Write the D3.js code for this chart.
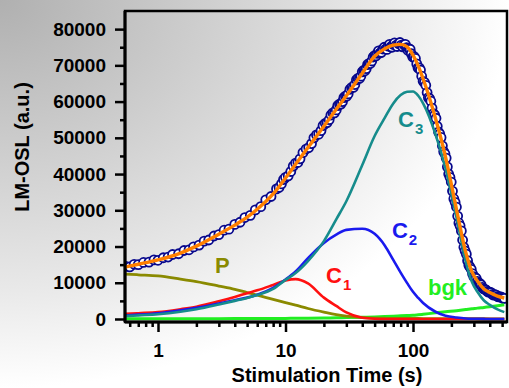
<!DOCTYPE html>
<html>
<head>
<meta charset="utf-8">
<script src="https://d3js.org/d3.v7.min.js"></script>
<style>
  html, body { margin: 0; padding: 0; background: #fff; }
  svg { display: block; }
  text { font-family: "Liberation Sans", Arial, sans-serif; font-weight: bold; }
</style>
</head>
<body>
<svg id="chart"></svg>
<script>
// measured LM-OSL points (first pass over the curve)
const dataTime = [0.56,0.6,0.65,0.7,0.77,0.85,0.93,1.0,1.1,1.2,
  1.3,1.45,1.6,1.75,1.9,2.1,2.3,2.5,2.75,3.0,
  3.3,3.6,4.0,4.4,4.8,5.3,5.8,6.4,7.0,7.7,
  8.5,9.3,10,11,12,13,14.5,16,17.5,19,
  20.5,22,23.5,25,26.5,28,29.5,31,33,35,
  37,39,41,43,45,47.5,50,52.5,55,58,
  61,64,67,70,73.5,77,81,85,89,93,
  97,102,107,112,117,123,129,135,141,148,
  155,162,170,178,186,195,204,214,224,234,
  245,256,268,280,293,306,320,335,350,366,
  383,400,420,440,460,480,500,520];
const dataOsl = [14500,14400,15100,15000,15600,15700,16300,16200,16900,17100,
  17800,18000,18900,19100,19900,20400,21500,21800,22900,23300,
  24500,24800,26100,26700,28000,28600,30100,31000,32900,33800,
  35900,37300,39100,40700,43000,44200,46900,48400,50800,52000,
  54000,55000,56900,57700,59300,60000,61500,62100,63900,64700,
  66400,67000,68600,69100,70500,71200,72700,73300,73400,74500,
  74500,75300,75100,75800,75500,76000,75600,75700,74900,74600,
  73200,72400,70400,69300,67000,65300,62500,60800,58200,56300,
  53200,51100,47800,45600,42000,39100,35300,32200,28400,25700,
  21800,18800,16100,14300,12500,11500,10400,9800,8700,8200,
  7600,7400,6800,6700,6200,6100,5900,5700];

// the points in between, where the record gets dense
const denseTime = [8.9,9.65,10.5,11.5,12.5,13.7,15.2,16.7,18.2,19.7,
  21.2,22.7,24.2,25.7,27.2,28.7,30.2,32,34,36,
  38,40,42,44,46.2,48.7,51.2,53.7,56.5,59.5,
  62.5,65.5,68.5,71.7,75.2,79,83,87,91,95,
  99.5,104.5,109.5,114.5,120,126,132,138,144.5,151.5,
  158.5,166,174,182,190.5,199.5,209,219,229,239.5,
  250.5,262,274,286.5,299.5,313,327.5,342.5,358,374.5,
  391.5,410,430,450,470,490,510];
const denseOsl = [36300,38500,39500,42200,43200,45900,47300,50000,51000,53400,
  54200,56300,56900,58900,59300,61100,61500,63400,63900,66000,
  66400,68200,68500,70200,70500,72300,72600,74000,73600,75000,
  74400,75800,75000,76200,75200,76300,75100,75800,74200,74400,
  72300,71900,69300,68700,65600,64500,61100,60100,56700,55400,
  51600,50100,46200,44400,40000,37800,33200,30900,26500,24300,
  19800,17900,14800,13700,11700,11200,9900,9400,8300,8000,
  7400,7300,6600,6600,6100,6100,5700];

// fit and components, on a common time grid
const compTime = [0.55,0.7,1,1.5,2,3,4,5,6,8,10,12,15,20,25,30,40,50,60,70,80,90,100,110,120,150,180,220,260,290,320,360,400,460,520];
const fitSum = [14300,15100,16300,18200,20100,23400,25900,28100,30300,34500,38900,42700,47300,53200,57900,61600,67800,72500,74600,75600,75800,75100,72800,69800,66300,55400,44700,30000,18200,13000,10500,8300,7300,6300,5800];
const compP  = [12400,12200,11900,11000,10300,9100,8200,7300,6600,5400,4500,3800,2900,1900,1200,800,400,250,200,180,160,150,140,130,120,110,100,90,80,80,70,70,60,60,50];
const compC1 = [1400,1600,1900,2700,3400,4900,6100,7100,7900,9400,10600,11000,9800,5900,3600,1800,350,60,0,0,0,0,0,0,0,0,0,0,0,0,0,0,0,0,0];
const compC2 = [1000,1200,1600,2400,3100,4300,5200,5900,6700,8600,10900,13100,16800,21000,23300,24600,24900,23500,20300,16300,12800,9900,7500,5800,4400,2000,900,400,150,80,50,20,0,0,0];
const compC3 = [800,1000,1300,2000,2700,4000,5000,5800,6600,8300,10800,12700,16000,21500,27500,32500,42500,50500,55500,59500,61800,62700,62800,61600,59500,51000,41500,27800,15600,10200,7500,5100,3900,2650,1900];
const compBgk = [50,50,60,70,80,100,110,120,130,150,170,200,230,280,330,380,480,580,680,780,880,950,1000,1150,1300,1700,2000,2300,2600,2800,3000,3200,3400,3650,3900];

const xMajor = [1, 10, 100];
const xMinor = [0.6,0.7,0.8,0.9,2,3,4,5,6,7,8,9,20,30,40,50,60,70,80,90,200,300,400,500];
const yMajor = [0,10000,20000,30000,40000,50000,60000,70000,80000];
const yMinor = [5000,15000,25000,35000,45000,55000,65000,75000];

const W = 509, H = 388;
const mLeft = 125, mRight = 507, mTop = 11, mBottom = 322;

const svg = d3.select("#chart").attr("width", W).attr("height", H);

const defs = svg.append("defs");
const grad = defs.append("radialGradient").attr("id", "bg")
  .attr("cx", 0).attr("cy", 0).attr("r", 1).attr("fx", 0).attr("fy", 0);
grad.append("stop").attr("offset", 0).attr("stop-color", "#b0b0b0");
grad.append("stop").attr("offset", 0.45).attr("stop-color", "#d2d2d2");
grad.append("stop").attr("offset", 0.75).attr("stop-color", "#e9e9e9");
grad.append("stop").attr("offset", 1).attr("stop-color", "#ffffff");
defs.append("clipPath").attr("id", "plot").append("rect")
  .attr("x", mLeft).attr("y", mTop).attr("width", mRight - mLeft).attr("height", mBottom - mTop);

svg.append("rect").attr("width", W).attr("height", H).attr("fill", "url(#bg)");

const x = d3.scaleLog().domain([0.551, 546]).range([mLeft, mRight]);
const y = d3.scaleLinear().domain([-830, 85000]).range([mBottom, mTop]);

const plot = svg.append("g").attr("clip-path", "url(#plot)");

// data circles
const points = dataTime.map((t, i) => ({ t: t, v: dataOsl[i] }))
  .concat(denseTime.map((t, i) => ({ t: t, v: denseOsl[i] })))
  .sort((a, b) => a.t - b.t);

plot.selectAll("circle.pt")
  .data(points)
  .enter()
  .append("circle")
  .attr("class", "pt")
  .attr("cx", d => x(d.t))
  .attr("cy", d => y(d.v))
  .attr("r", 4.5)
  .attr("fill", "#fff")
  .attr("stroke", "#08088c")
  .attr("stroke-width", 1.8);

const line = d3.line()
  .x((d, i) => x(compTime[i]))
  .y(d => y(d))
  .curve(d3.curveMonotoneX);

const comps = [
  { vals: compBgk, color: "#22ee22", w: 3 },
  { vals: compP, color: "#8a8a00", w: 2.8 },
  { vals: compC1, color: "#ff1010", w: 2.6 },
  { vals: compC2, color: "#1a1aee", w: 2.6 },
  { vals: compC3, color: "#168c8c", w: 2.6 },
  { vals: fitSum, color: "#ff8000", w: 3.4 }
];
comps.forEach(c => {
  plot.append("path")
    .attr("d", line(c.vals))
    .attr("fill", "none")
    .attr("stroke", c.color)
    .attr("stroke-width", c.w);
});

// curve labels
const labels = [
  { text: "P", sub: "", t: 2.8, v: 12700, color: "#8a8a00" },
  { text: "C", sub: "1", t: 20.8, v: 9900, color: "#ff1010" },
  { text: "C", sub: "2", t: 68.4, v: 22300, color: "#1a1aee" },
  { text: "C", sub: "3", t: 76.3, v: 53000, color: "#168c8c" },
  { text: "bgk", sub: "", t: 131, v: 6600, color: "#22ee22" }
];
labels.forEach(l => {
  const t = svg.append("text")
    .attr("x", x(l.t)).attr("y", y(l.v))
    .attr("font-size", 22).attr("fill", l.color)
    .text(l.text);
  if (l.sub) {
    t.append("tspan").attr("dx", 1).attr("dy", 7).attr("font-size", 15).text(l.sub);
  }
});

// axes
const yAxis = d3.axisLeft(y).tickValues(yMajor).tickFormat(d3.format("d")).tickSize(10).tickSizeOuter(0).tickPadding(9);
const yMinorAxis = d3.axisLeft(y).tickValues(yMinor).tickSize(5).tickFormat("");
const xAxis = d3.axisBottom(x).tickValues(xMajor).tickFormat(d3.format("d")).tickSize(10).tickSizeOuter(0).tickPadding(12);
const xMinorAxis = d3.axisBottom(x).tickValues(xMinor).tickSize(5).tickFormat("");

function styleAxis(g) {
  g.select(".domain").remove();
  g.selectAll(".tick line").attr("stroke", "#000").attr("stroke-width", 2.5);
  g.selectAll(".tick text").attr("fill", "#000").attr("font-size", 19)
    .attr("font-family", "Liberation Sans, Arial, sans-serif").attr("font-weight", "bold");
}
svg.append("g").attr("transform", `translate(${mLeft},0)`).call(yAxis).call(styleAxis);
svg.append("g").attr("transform", `translate(${mLeft},0)`).call(yMinorAxis).call(styleAxis);
svg.append("g").attr("transform", `translate(0,${mBottom})`).call(xAxis).call(styleAxis);
svg.append("g").attr("transform", `translate(0,${mBottom})`).call(xMinorAxis).call(styleAxis);

// frame
svg.append("rect")
  .attr("x", mLeft).attr("y", mTop)
  .attr("width", mRight - mLeft).attr("height", mBottom - mTop)
  .attr("fill", "none").attr("stroke", "#000").attr("stroke-width", 2.5);
svg.append("line").attr("x1", mLeft).attr("x2", mLeft).attr("y1", mTop).attr("y2", mBottom)
  .attr("stroke", "#000").attr("stroke-width", 3);
svg.append("line").attr("x1", mLeft).attr("x2", mRight).attr("y1", mBottom).attr("y2", mBottom)
  .attr("stroke", "#000").attr("stroke-width", 3);

// axis titles
svg.append("text")
  .attr("transform", "translate(29,147) rotate(-90)")
  .attr("text-anchor", "middle").attr("font-size", 20).attr("fill", "#000")
  .text("LM-OSL (a.u.)");
svg.append("text")
  .attr("x", 327).attr("y", 382)
  .attr("text-anchor", "middle").attr("font-size", 20).attr("fill", "#000")
  .text("Stimulation Time (s)");
</script>
</body>
</html>
